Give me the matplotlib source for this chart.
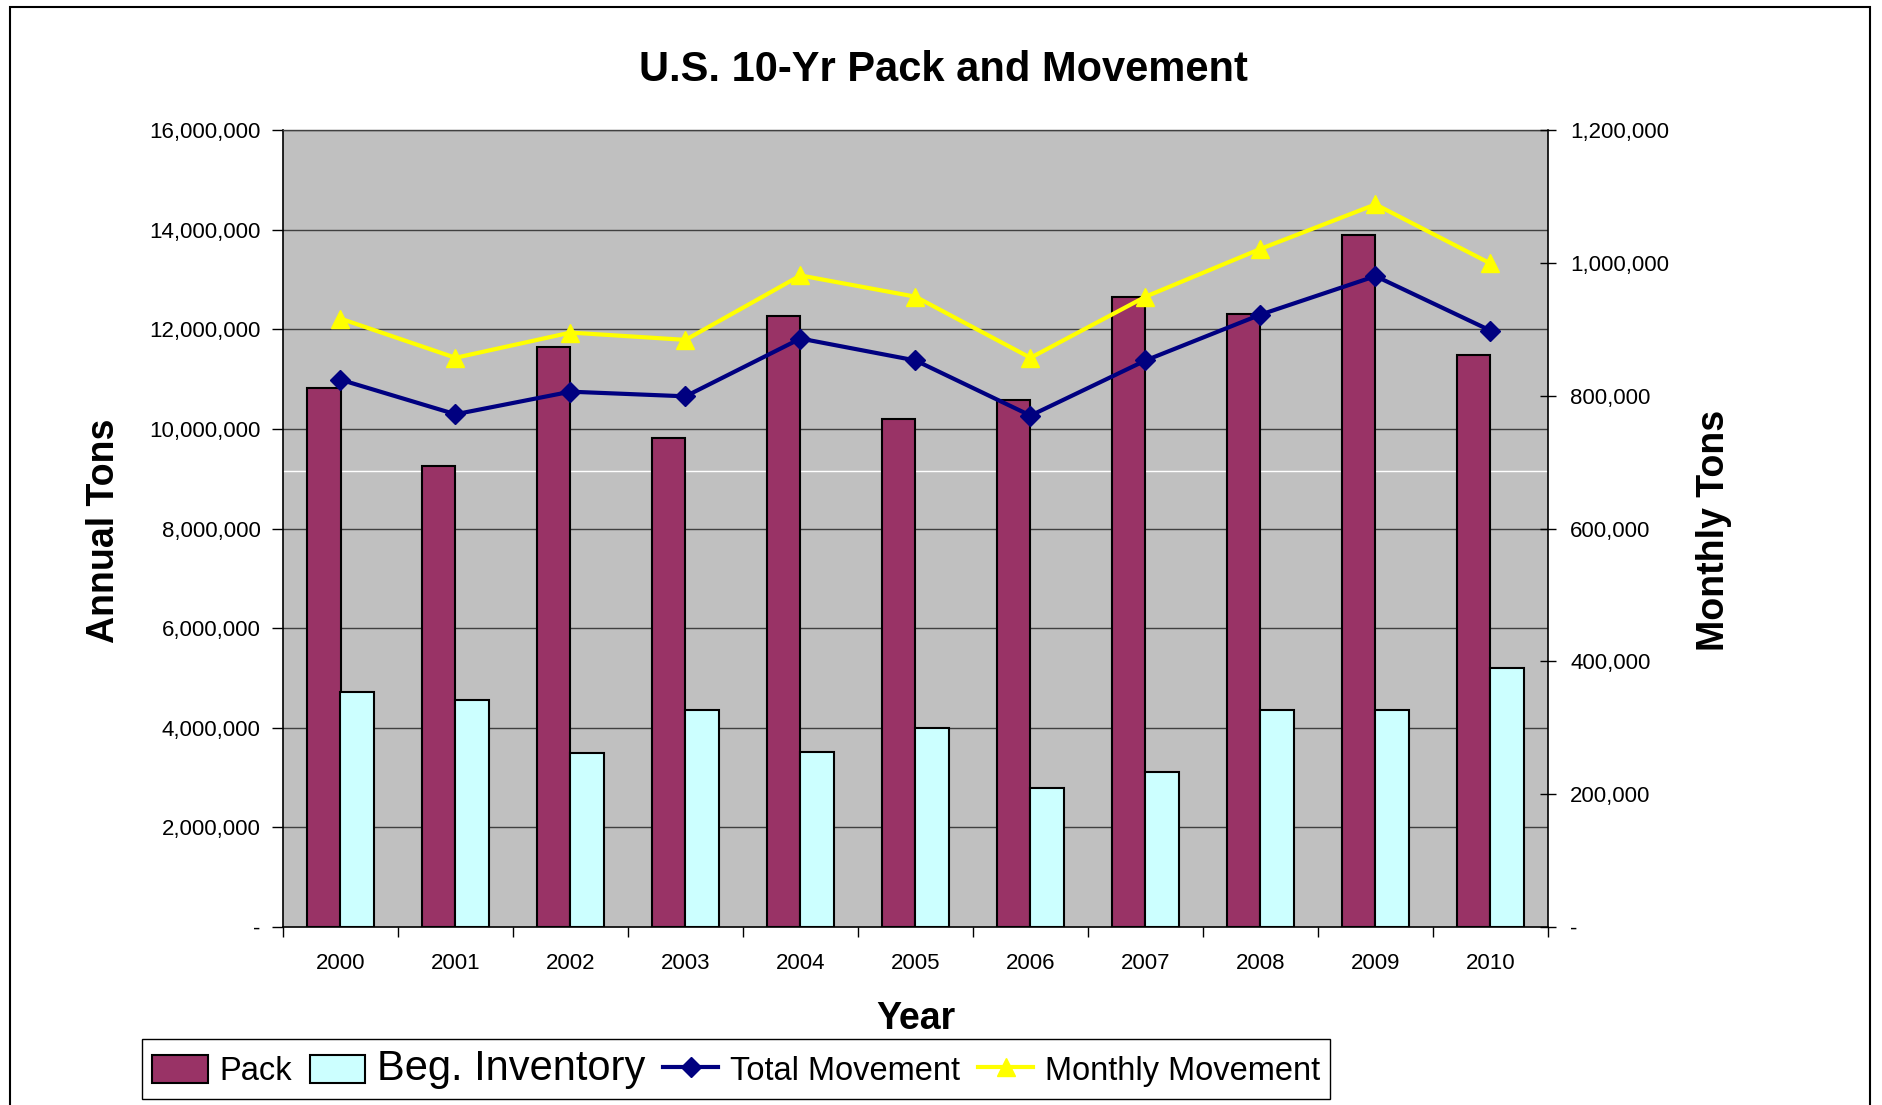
import numpy as np
import matplotlib
matplotlib.use("Agg")
import matplotlib.pyplot as plt
from matplotlib.ticker import FuncFormatter, FixedLocator
from matplotlib.patches import Rectangle

plt.rcParams['font.family'] = ['Liberation Sans', 'DejaVu Sans']

years = ['2000', '2001', '2002', '2003', '2004', '2005', '2006', '2007', '2008', '2009', '2010']
pack = [10820000, 9250000, 11640000, 9810000, 12270000, 10190000, 10580000,
        12650000, 12310000, 13900000, 11490000]
beg_inventory = [4720000, 4550000, 3490000, 4360000, 3520000, 4000000, 2800000,
                 3110000, 4360000, 4360000, 5200000]
total_movement = [824000, 772000, 806000, 799000, 886000, 853000, 770000,
                  853000, 922000, 980000, 898000]
monthly_movement = [916000, 857000, 895000, 884000, 981000, 949000, 857000,
                    949000, 1021000, 1088000, 999000]

W, H = 1883, 1105
fig = plt.figure(figsize=(W / 100, H / 100), dpi=100)
ax = fig.add_axes([283 / W, 1 - 927 / H, (1548 - 283) / W, (927 - 130) / H])
ax.set_facecolor('#C0C0C0')

x = np.arange(len(years))
w = 0.29

# gridlines for the left axis
for v in range(2000000, 16000001, 2000000):
    ax.axhline(v, color='#404040', lw=1.0, zorder=1)
ax.axhline(9160000, color='white', lw=1.0, zorder=1)

b1 = ax.bar(x - w / 2, pack, w, color='#993366', edgecolor='black', lw=1.5, zorder=2, label='Pack')
b2 = ax.bar(x + w / 2, beg_inventory, w, color='#CCFFFF', edgecolor='black', lw=1.5, zorder=2,
            label='Beg. Inventory')

ax.set_xlim(-0.5, len(years) - 0.5)
ax.set_ylim(0, 16000000)
ax.set_yticks(range(0, 16000001, 2000000))

fmt = FuncFormatter(lambda v, p: '-' if v == 0 else f'{v:,.0f}')
ax.yaxis.set_major_formatter(fmt)
ax.tick_params(axis='y', direction='out', length=8, width=1, labelsize=16, pad=8)

ax.set_xticks(x)
ax.set_xticklabels(years)
ax.xaxis.set_minor_locator(FixedLocator(np.arange(-0.5, len(years), 1.0)))
ax.tick_params(axis='x', which='major', length=0, labelsize=16, pad=19)
ax.tick_params(axis='x', which='minor', length=7, width=1, direction='out')

for s in ['left', 'bottom', 'right']:
    ax.spines[s].set_color('black')
    ax.spines[s].set_linewidth(1.2)
ax.spines['top'].set_color('#404040')
ax.spines['top'].set_linewidth(1.0)

ax2 = ax.twinx()
l1, = ax2.plot(x, total_movement, color='#000080', lw=3, marker='D', ms=10, zorder=3,
               label='Total Movement')
l2, = ax2.plot(x, monthly_movement, color='#FFFF00', lw=3, marker='^', ms=13, zorder=3,
               label='Monthly Movement')
ax2.set_ylim(0, 1200000)
ax2.set_yticks(range(0, 1200001, 200000))
ax2.yaxis.set_major_formatter(fmt)
ax2.tick_params(axis='y', direction='inout', length=12, width=1, labelsize=16, pad=10)
for s in ax2.spines.values():
    s.set_visible(False)

fig.text(0.5008, 1 - 70 / H, 'U.S. 10-Yr Pack and Movement', ha='center', va='center',
         fontsize=30, fontweight='bold')
fig.text(916 / W, 1 - 1019 / H, 'Year', ha='center', va='center', fontsize=27, fontweight='bold')
fig.text(104 / W, 1 - 531 / H, 'Annual Tons', ha='center', va='center', rotation=90,
         fontsize=27, fontweight='bold')
fig.text(1714 / W, 1 - 530 / H, 'Monthly Tons', ha='center', va='center', rotation=90,
         fontsize=27, fontweight='bold')

leg = fig.legend([b1, b2, l1, l2], ['Pack', 'Beg. Inventory', 'Total Movement', 'Monthly Movement'],
                 loc='center', bbox_to_anchor=(736 / W, 1 - 1069 / H), ncol=4, fontsize=23.5,
                 frameon=True, fancybox=False, edgecolor='black', framealpha=1,
                 handlelength=1.7, handleheight=0.95, handletextpad=0.35, columnspacing=0.55,
                 borderpad=0.3, borderaxespad=0)
leg.get_frame().set_linewidth(1.0)
leg.get_texts()[1].set_fontsize(30)

# outer chart border
fig.patches.append(Rectangle((10 / W, -0.05), (1870 - 10) / W, 1.05 - 7 / H,
                             transform=fig.transFigure, fill=False, edgecolor='black', lw=1.5))

fig.savefig('out.png', dpi=100)
